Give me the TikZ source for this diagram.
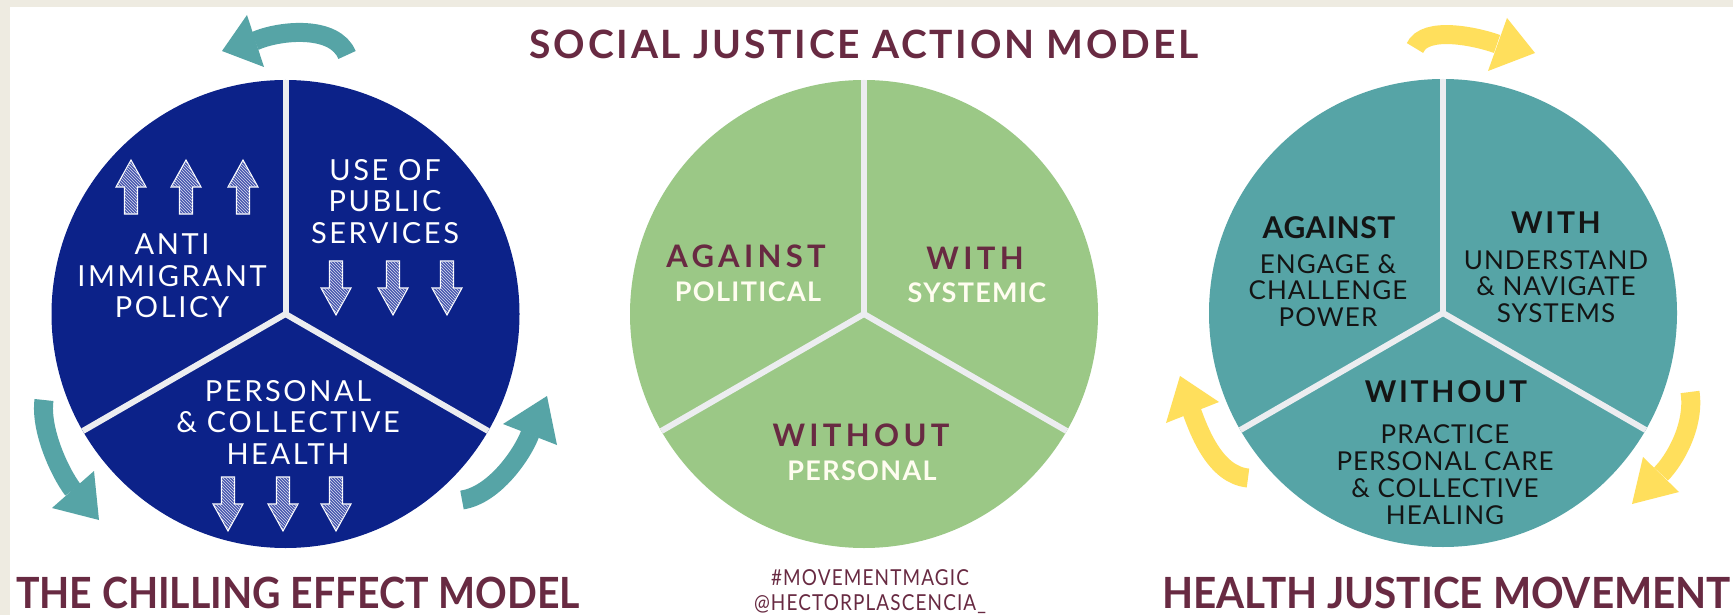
\documentclass[tikz,border=0pt]{standalone}
\usepackage{graphicx}
\usepackage{fontspec}
\setmainfont{Lato}
\usetikzlibrary{patterns}
\definecolor{navy}{HTML}{0C2289}
\definecolor{leaf}{HTML}{9BC886}
\definecolor{tealc}{HTML}{56A4A6}
\definecolor{sun}{HTML}{FFDF5C}
\definecolor{maroon}{HTML}{682A42}
\definecolor{divc}{HTML}{ECEDF0}
\definecolor{beige}{HTML}{EEEBE1}
\definecolor{cream}{HTML}{FFFDF0}
\definecolor{ink}{HTML}{141414}
\definecolor{hatchbase}{HTML}{4656AE}
\tikzset{
  disc/.style={circle, inner sep=0pt, outer sep=0pt, minimum size=468pt},
  divider/.style={draw=divc, line width=6pt},
  band/.style={draw=#1, line width=19pt, line cap=butt},
  hatchfill/.style={fill=hatchbase, draw=white, line width=1.1pt,
    postaction={pattern=north west lines, pattern color=white!80!hatchbase}},
  harrow/.pic={\path[hatchfill] (0,-27) -- (15,0) -- (6.5,0) -- (6.5,27) -- (-6.5,27) -- (-6.5,0) -- (-15,0) -- cycle;},
  lefttxt/.style={font={\fontsize{29}{31.5}\selectfont\addfontfeatures{LetterSpace=9}}, text=white, align=center, inner sep=0pt, anchor=north},
  midhead/.style={font={\fontsize{31}{33}\selectfont\bfseries\addfontfeatures{LetterSpace=14}}, text=maroon, inner sep=0pt, anchor=north},
  midsub/.style={font={\fontsize{27}{30}\selectfont\bfseries\addfontfeatures{LetterSpace=5}}, text=cream, inner sep=0pt, anchor=north},
  righthead/.style={font={\fontsize{30}{32}\selectfont\bfseries\addfontfeatures{LetterSpace=#1}}, text=ink, inner sep=0pt, anchor=north},
  righthead/.default=2,
  rightbody/.style={font={\fontsize{26}{26.5}\selectfont\addfontfeatures{LetterSpace=4}}, text=ink, align=center, inner sep=0pt, anchor=north},
  maintitle/.style={font={\fontsize{39}{42}\selectfont\bfseries\addfontfeatures{LetterSpace=7}}, text=maroon, inner sep=0pt},
  subtitle/.style={font={\fontsize{43}{45}\selectfont\bfseries}, text=maroon, inner sep=0pt},
  handle/.style={font={\fontsize{22}{25}\selectfont\addfontfeatures{LetterSpace=6}}, text=maroon, align=center, inner sep=0pt, anchor=north}
}
\begin{document}
\begin{tikzpicture}[x=1pt,y=-1pt]
\useasboundingbox (0,0) rectangle (1733,615);
\fill[white] (0,0) rectangle (1733,615);
\fill[beige] (0,0) rectangle (1733,7);
\fill[beige] (0,0) rectangle (10,615);

% title
\node[maintitle, anchor=north] (title) at (864,30) {SOCIAL JUSTICE ACTION MODEL};

% ---------- left circle ----------
\node[disc, fill=navy] (c1) at (285.5,314) {};
\draw[divider] (c1.center) -- (c1.north);
\draw[divider] (c1.center) -- (c1.210);
\draw[divider] (c1.center) -- (c1.330);
\pic at (131,187) {harrow};
\pic at (186,187) {harrow};
\pic at (243,187) {harrow};
\pic[rotate=180] at (336,288) {harrow};
\pic[rotate=180] at (393,288) {harrow};
\pic[rotate=180] at (447,288) {harrow};
\pic[rotate=180] at (228,504) {harrow};
\pic[rotate=180] at (283,504) {harrow};
\pic[rotate=180] at (336,504) {harrow};
\node[lefttxt] (anti) at (172,234) {ANTI\\IMMIGRANT\\POLICY};
\node[lefttxt] (use) at (385,159) {USE OF\\PUBLIC\\SERVICES};
\node[lefttxt] (pers) at (288,380) {PERSONAL\\\& COLLECTIVE\\HEALTH};

% teal arrows
\coordinate (t1a) at (347,55); \coordinate (t1b) at (255,41);
\draw[band=tealc] (t1a) .. controls (335,25) and (280,30) .. (t1b);
\fill[tealc] (247,15) -- (222,51) -- (264,67) -- cycle;
\coordinate (t2a) at (44,400); \coordinate (t2b) at (73,490);
\draw[band=tealc] (t2a) .. controls (40,430) and (60,473) .. (t2b);
\fill[tealc] (52,508) -- (99,520) -- (94,471) -- cycle;
\coordinate (t3a) at (462,500); \coordinate (t3b) at (530,434);
\draw[band=tealc] (t3a) .. controls (495,495) and (523,453) .. (t3b);
\fill[tealc] (503,424) -- (547,396) -- (557,445) -- cycle;

\node[subtitle, anchor=north west] (chill) at (16,577) {\scalebox{0.912}[1]{THE CHILLING EFFECT MODEL}};

% ---------- middle circle ----------
\node[disc, fill=leaf] (c2) at (864,314) {};
\draw[divider] (c2.center) -- (c2.north);
\draw[divider] (c2.center) -- (c2.210);
\draw[divider] (c2.center) -- (c2.330);
\node[midhead] (ag2) at (746,245) {AGAINST};
\node[midsub] (pol) at (748,282) {POLITICAL};
\node[midhead] (wi2) at (975,247) {WITH};
\node[midsub] (sys) at (977,283) {SYSTEMIC};
\node[midhead] (wo2) at (861,424) {WITHOUT};
\node[midsub] (per2) at (862,461) {PERSONAL};
\node[handle] (tag) at (870,569) {\scalebox{0.86}[1]{\#MOVEMENTMAGIC}\\\scalebox{0.86}[1]{@HECTORPLASCENCIA\_}};

% ---------- right circle ----------
\node[disc, fill=tealc] (c3) at (1443,313) {};
\draw[divider] (c3.center) -- (c3.north);
\draw[divider] (c3.center) -- (c3.210);
\draw[divider] (c3.center) -- (c3.330);
\node[righthead] (ag3) at (1329,216) {AGAINST};
\node[rightbody] (eng) at (1328,254) {ENGAGE \&\\CHALLENGE\\POWER};
\node[righthead=9] (wi3) at (1556,212) {WITH};
\node[rightbody] (und) at (1556,250) {UNDERSTAND\\\& NAVIGATE\\SYSTEMS};
\node[righthead=9] (wo3) at (1446,380) {WITHOUT};
\node[rightbody, font={\fontsize{26}{27}\selectfont\addfontfeatures{LetterSpace=4}}] (prac) at (1445,424) {PRACTICE\\PERSONAL CARE\\\& COLLECTIVE\\HEALING};

% yellow arrows
\coordinate (y1a) at (1415,48); \coordinate (y1b) at (1497,44);
\draw[band=sun] (y1a) .. controls (1425,25) and (1478,37) .. (y1b);
\fill[sun] (1507,18) -- (1535,53) -- (1488,71) -- cycle;
\coordinate (y2a) at (1248,478); \coordinate (y2b) at (1192,412);
\draw[band=sun] (y2a) .. controls (1215,475) and (1199,431) .. (y2b);
\fill[sun] (1166,423) -- (1180,376) -- (1219,402) -- cycle;
\coordinate (y3a) at (1690,392); \coordinate (y3b) at (1661,474);
\draw[band=sun] (y3a) .. controls (1695,425) and (1675,460) .. (y3b);
\fill[sun] (1643,457) -- (1632,504) -- (1679,492) -- cycle;

\node[subtitle, anchor=north west] (hjm) at (1162,577) {\scalebox{0.94}[1]{HEALTH JUSTICE MOVEMENT}};
\end{tikzpicture}
\end{document}
